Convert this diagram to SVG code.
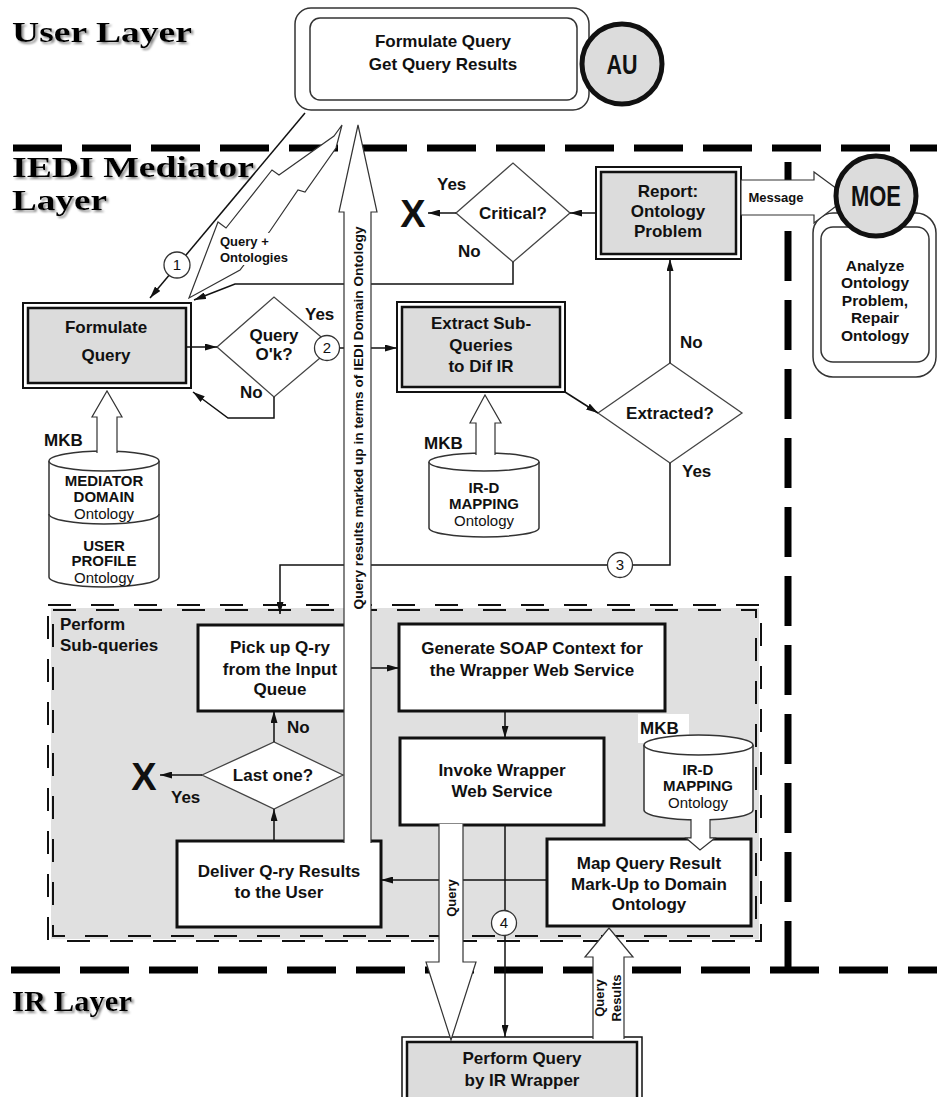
<svg xmlns="http://www.w3.org/2000/svg" width="937" height="1097" viewBox="0 0 937 1097">
<defs>
<style>
.t{font-family:"Liberation Sans",Arial,sans-serif;font-weight:bold;font-size:17px;text-anchor:middle;fill:#111}
.s{text-anchor:start}
.f15{font-size:15px}
.f13{font-size:13px}
.reg{font-weight:normal}
.big{font-size:38px}
.ttl{font-family:"Liberation Serif","Times New Roman",serif;font-weight:bold;font-size:29px;fill:#000}
.ln{fill:none;stroke:#111;stroke-width:1.5}
.dia{fill:#fff;stroke:#444;stroke-width:1.3}
.hol{fill:#fff;stroke:#333;stroke-width:1.2}
.box{fill:#fff;stroke:#111;stroke-width:3}
.gout{fill:#fff;stroke:#111;stroke-width:2}
.gin{fill:#dcdcdc;stroke:#111;stroke-width:2.5}
.cyl{fill:#fff;stroke:#333;stroke-width:1.5}
.num{font-family:"Liberation Sans",Arial,sans-serif;font-size:15px;text-anchor:middle;fill:#111}
.nc{fill:#fff;stroke:#333;stroke-width:1.3}
.lay{stroke:#000;stroke-width:7;fill:none}
</style>
<marker id="ah" viewBox="0 0 12 7" refX="12" refY="3.5" markerWidth="12" markerHeight="7" markerUnits="userSpaceOnUse" orient="auto"><path d="M0,0 L12,3.5 L0,7 z" fill="#111"/></marker>
<filter id="sh" x="-5%" y="-20%" width="115%" height="150%">
<feGaussianBlur in="SourceAlpha" stdDeviation="1.2"/>
<feOffset dx="2" dy="2" result="b"/>
<feFlood flood-color="#8a8a8a"/>
<feComposite in2="b" operator="in"/>
<feMerge><feMergeNode/><feMergeNode in="SourceGraphic"/></feMerge>
</filter>
</defs>
<rect width="937" height="1097" fill="#fff"/>

<g id="titles" filter="url(#sh)">
<text class="ttl" x="12" y="42" textLength="180" lengthAdjust="spacingAndGlyphs">User Layer</text>
<text class="ttl" x="12" y="177" textLength="242" lengthAdjust="spacingAndGlyphs">IEDI Mediator</text>
<text class="ttl" x="12" y="210" textLength="95" lengthAdjust="spacingAndGlyphs">Layer</text>
<text class="ttl" x="12" y="1011" textLength="120" lengthAdjust="spacingAndGlyphs">IR Layer</text>
</g>

<g id="layer-boundaries">
<line x1="13" y1="148" x2="937" y2="148" class="lay" stroke-dasharray="49 20"/>
<line x1="788" y1="162" x2="788" y2="970" class="lay" stroke-dasharray="50 19"/>
<line x1="11" y1="970" x2="937" y2="970" class="lay" stroke-dasharray="49 20"/>
</g>

<g id="perform-subqueries">
<rect x="51" y="608" width="708" height="331" fill="#e0e0e0"/>
<rect x="48" y="605" width="713" height="336" fill="none" stroke="#111" stroke-width="2" stroke-dasharray="23 20"/>
<rect x="53" y="610" width="703" height="326" fill="none" stroke="#111" stroke-width="2" stroke-dasharray="23 20"/>
<text class="t s" x="60" y="630">Perform</text>
<text class="t s" x="60" y="651">Sub-queries</text>
</g>

<g id="au-user">
<rect x="295" y="8" width="294" height="102" rx="16" fill="#fff" stroke="#333" stroke-width="1.5"/>
<rect x="310" y="18" width="267" height="82" rx="10" fill="#fff" stroke="#333" stroke-width="1.5"/>
<text class="t" x="443" y="47">Formulate Query</text>
<text class="t" x="443" y="70">Get Query Results</text>
</g>
<g id="au-actor">
<circle cx="622" cy="64" r="40" fill="#dcdcdc" stroke="#111" stroke-width="5"/>
<text class="t" x="622" y="74" style="font-size:27px" textLength="31" lengthAdjust="spacingAndGlyphs">AU</text>
</g>

<g id="formulate-query">
<rect x="23" y="303" width="168" height="85" class="gout"/>
<rect x="28" y="308" width="158" height="75" class="gin"/>
<text class="t" x="106" y="333">Formulate</text>
<text class="t" x="106" y="361">Query</text>
</g>

<g id="query-ok">
<polygon points="217,347 274,297 333,347 274,397" class="dia"/>
<text class="t" x="274" y="341">Query</text>
<text class="t" x="274" y="360">O'k?</text>
</g>

<g id="mkb-mediator">
<text class="t s" x="44" y="446">MKB</text>
<path d="M49,461 L49,577 A55,10 0 0 0 159,577 L159,461" class="cyl"/>
<ellipse cx="104" cy="461" rx="55" ry="10" class="cyl"/>
<path d="M49,514 A55,10 0 0 0 159,514" fill="none" stroke="#333" stroke-width="1.5"/>
<text class="t f15" x="104" y="486">MEDIATOR</text>
<text class="t f15" x="104" y="502">DOMAIN</text>
<text class="t f15 reg" x="104" y="519">Ontology</text>
<text class="t f15" x="104" y="551">USER</text>
<text class="t f15" x="104" y="566">PROFILE</text>
<text class="t f15 reg" x="104" y="583">Ontology</text>
</g>

<g id="extract-subqueries">
<rect x="397" y="302" width="168" height="90" class="gout"/>
<rect x="402" y="307" width="158" height="80" class="gin"/>
<text class="t" x="481" y="329">Extract Sub-</text>
<text class="t" x="481" y="351">Queries</text>
<text class="t" x="481" y="372">to Dif IR</text>
</g>

<g id="mkb-ird-1">
<text class="t s" x="424" y="449">MKB</text>
<path d="M429,462 L429,528 A55,9 0 0 0 539,528 L539,462" class="cyl"/>
<ellipse cx="484" cy="462" rx="55" ry="9" class="cyl"/>
<text class="t f15" x="484" y="493">IR-D</text>
<text class="t f15" x="484" y="509">MAPPING</text>
<text class="t f15 reg" x="484" y="526">Ontology</text>
</g>

<g id="extracted">
<polygon points="598,413 670,363 742,413 670,463" class="dia"/>
<text class="t" x="670" y="419">Extracted?</text>
</g>

<g id="report-problem">
<rect x="596" y="167" width="145" height="92" class="gout"/>
<rect x="601" y="172" width="135" height="82" class="gin"/>
<text class="t" x="668" y="197">Report:</text>
<text class="t" x="668" y="217">Ontology</text>
<text class="t" x="668" y="237">Problem</text>
</g>

<g id="critical">
<polygon points="456,213 513,163 570,213 513,262" class="dia"/>
<text class="t" x="513" y="219">Critical?</text>
</g>

<g id="end-critical">
<text class="t big" x="413" y="227">X</text>
</g>

<g id="moe-task">
<rect x="813" y="213" width="123" height="164" rx="20" fill="#fff" stroke="#333" stroke-width="1.5"/>
<rect x="821" y="227" width="108" height="135" rx="12" fill="#fff" stroke="#333" stroke-width="1.5"/>
<text class="t" style="font-size:15.5px" x="875" y="271">Analyze</text>
<text class="t" style="font-size:15.5px" x="875" y="288">Ontology</text>
<text class="t" style="font-size:15.5px" x="875" y="306">Problem,</text>
<text class="t" style="font-size:15.5px" x="875" y="323">Repair</text>
<text class="t" style="font-size:15.5px" x="875" y="341">Ontology</text>
</g>

<g id="pickup-query">
<rect x="198" y="625" width="164" height="86" class="box"/>
<text class="t" x="280" y="653">Pick up Q-ry</text>
<text class="t" x="280" y="675">from the Input</text>
<text class="t" x="280" y="695">Queue</text>
</g>

<g id="generate-soap">
<rect x="399" y="624" width="266" height="87" class="box"/>
<text class="t" x="532" y="654">Generate SOAP Context for</text>
<text class="t" x="532" y="676">the Wrapper Web Service</text>
</g>

<g id="invoke-wrapper">
<rect x="400" y="738" width="204" height="87" class="box"/>
<text class="t" x="502" y="776">Invoke Wrapper</text>
<text class="t" x="502" y="797">Web Service</text>
</g>

<g id="last-one">
<polygon points="202,775 274,742 343,775 274,809" class="dia"/>
<text class="t" x="273" y="781">Last one?</text>
</g>

<g id="end-last">
<text class="t big" x="144" y="790">X</text>
</g>

<g id="deliver-results">
<rect x="177" y="841" width="204" height="86" class="box"/>
<text class="t" x="279" y="877">Deliver Q-ry Results</text>
<text class="t" x="279" y="898">to the User</text>
</g>

<g id="mkb-ird-2">
<rect x="638" y="714" width="51" height="29" fill="#fff"/>
<text class="t s" x="640" y="734">MKB</text>
<path d="M644,745 L644,810 A54.5,10 0 0 0 753,810 L753,745" class="cyl"/>
<ellipse cx="698.5" cy="745" rx="54.5" ry="10" class="cyl"/>
<text class="t f15" x="698" y="775">IR-D</text>
<text class="t f15" x="698" y="791">MAPPING</text>
<text class="t f15 reg" x="698" y="808">Ontology</text>
</g>

<g id="map-result">
<rect x="547" y="839" width="204" height="87" class="box"/>
<text class="t" x="649" y="869">Map Query Result</text>
<text class="t" x="649" y="890">Mark-Up to Domain</text>
<text class="t" x="649" y="910">Ontology</text>
</g>

<g id="perform-query">
<rect x="402" y="1037" width="240" height="70" class="gout" style="stroke-width:1.5"/>
<rect x="407" y="1042" width="230" height="60" class="gin"/>
<text class="t" x="522" y="1064">Perform Query</text>
<text class="t" x="522" y="1086">by IR Wrapper</text>
</g>

<g id="connectors">
<path d="M305,113 L150,298" class="ln" marker-end="url(#ah)"/>
<path d="M513,262 L513,284 L235,284 L194,300" class="ln" marker-end="url(#ah)"/>
<path d="M186,347 L217,347" class="ln" marker-end="url(#ah)"/>
<path d="M274,397 L274,418 L228,418 L193,392" class="ln" marker-end="url(#ah)"/>
<path d="M340,348 L397,348" class="ln" marker-end="url(#ah)"/>
<path d="M565,392 L598,413" class="ln" marker-end="url(#ah)"/>
<path d="M670,363 L670,259" class="ln" marker-end="url(#ah)"/>
<path d="M596,213 L570,213" class="ln" marker-end="url(#ah)"/>
<path d="M456,213 L428,213" class="ln" marker-end="url(#ah)"/>
<path d="M670,463 L670,565 L280,565 L280,614" class="ln" marker-end="url(#ah)"/>
<path d="M362,668 L399,668" class="ln" marker-end="url(#ah)"/>
<path d="M505,711 L505,738" class="ln" marker-end="url(#ah)"/>
<path d="M274,742 L274,711" class="ln" marker-end="url(#ah)"/>
<path d="M274,841 L274,809" class="ln" marker-end="url(#ah)"/>
<path d="M202,775 L160,775" class="ln" marker-end="url(#ah)"/>
<path d="M547,880 L381,880" class="ln" marker-end="url(#ah)"/>
<path d="M505,825 L505,1037" class="ln" marker-end="url(#ah)"/>

<circle cx="177" cy="265" r="13" class="nc"/><text class="num" x="177" y="270">1</text>
<circle cx="327" cy="348" r="12.5" class="nc"/><text class="num" x="327" y="353">2</text>
<circle cx="620" cy="565" r="12.5" class="nc"/><text class="num" x="620" y="570">3</text>
<circle cx="504" cy="923" r="12.5" class="nc"/><text class="num" x="504" y="928">4</text>

<polygon points="189,298 218,222 226,228 272,170 279,175 334,136 342,125 336,148 305,192 298,190 270,231 240,270" class="hol"/>
<rect x="219" y="233" width="73" height="32" fill="#fff"/>
<text class="t s f13" x="220" y="246">Query +</text>
<text class="t s f13" x="220" y="262">Ontologies</text>

<path d="M97,453 L97,417 L92,417 L107,391 L122,417 L117,417 L117,453" class="hol"/>
<path d="M476,455 L476,423 L470,423 L485,395 L501,423 L495,423 L495,455" class="hol"/>
<path d="M691,819 L691,838 L686,838 L700,850 L715,838 L710,838 L710,819" class="hol"/>

<path d="M344,843 L344,212 L339,212 L358,125 L377,212 L371,212 L371,843" class="hol"/>
<text class="t f13" x="358" y="423" transform="rotate(-90 358 418)" textLength="383" lengthAdjust="spacingAndGlyphs">Query results marked up in terms of IEDI Domain Ontology</text>

<path d="M439,824 L439,962 L426,962 L451,1040 L476,962 L463,962 L463,824" class="hol"/>
<text class="t f13" x="451" y="903" transform="rotate(-90 451 898)">Query</text>

<path d="M593,1039 L593,957 L585,957 L609,928 L633,957 L624,957 L624,1039" class="hol"/>
<text class="t f13" x="609" y="993" transform="rotate(-90 609 998)">Query</text>
<text class="t f13" x="609" y="1010" transform="rotate(-90 609 998)">Results</text>

<polygon points="741,180 814,180 814,172 848,197 814,223 814,215 741,215" class="hol"/>
<text class="t f13" x="776" y="202">Message</text>

<text class="t s" x="305" y="320">Yes</text>
<text class="t s" x="240" y="398">No</text>
<text class="t s" x="437" y="190">Yes</text>
<text class="t s" x="458" y="257">No</text>
<text class="t s" x="680" y="348">No</text>
<text class="t s" x="682" y="477">Yes</text>
<text class="t s" x="171" y="803">Yes</text>
<text class="t s" x="287" y="733">No</text>
</g>

<g id="moe-actor">
<circle cx="876" cy="196" r="40" fill="#dcdcdc" stroke="#111" stroke-width="5"/>
<text class="t" x="876" y="206" style="font-size:30px" textLength="50" lengthAdjust="spacingAndGlyphs">MOE</text>
</g>
</svg>
